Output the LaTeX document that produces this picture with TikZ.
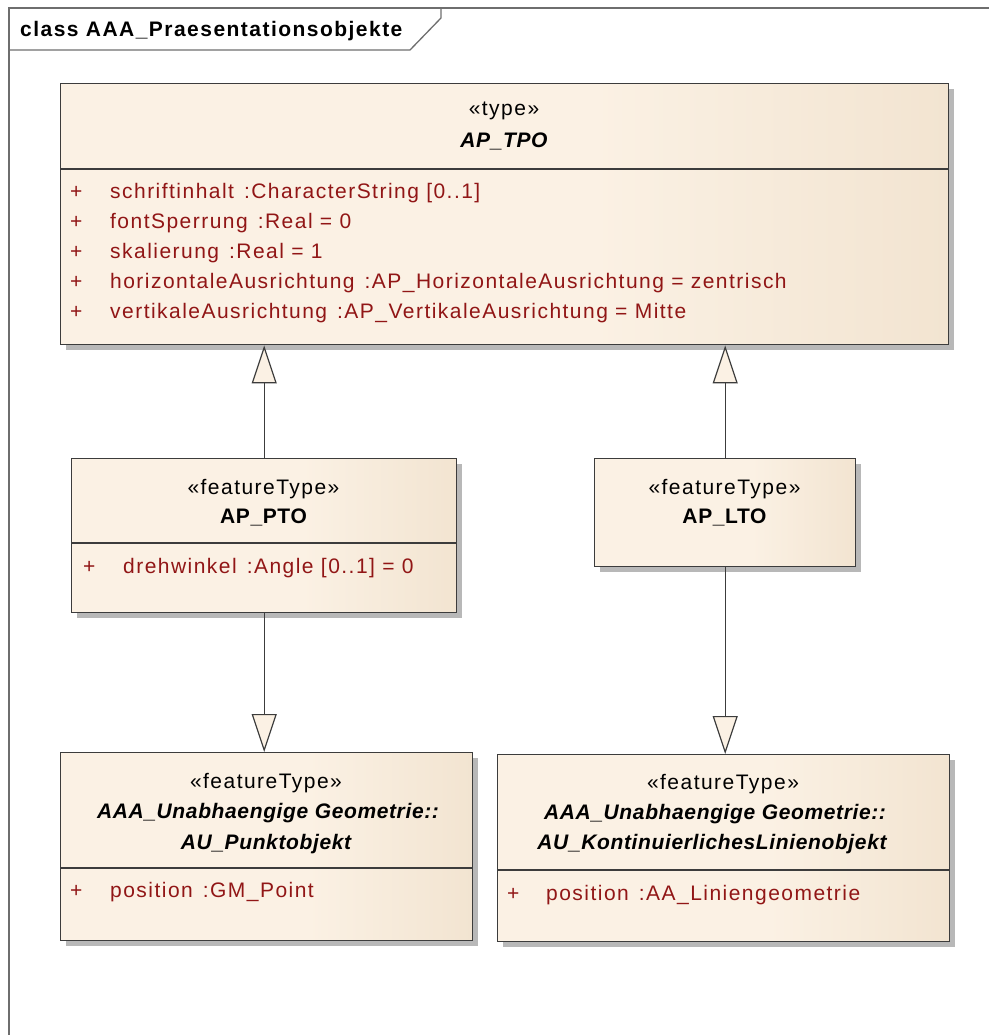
\documentclass[tikz,border=0pt]{standalone}
\usepackage{fontspec}
\setmainfont{Liberation Sans}
\newfontfamily\regf[LetterSpace=7]{Liberation Sans}
\newfontfamily\namef[LetterSpace=3]{Liberation Sans}
\usetikzlibrary{arrows.meta,shadows}
\definecolor{boxL}{RGB}{251,241,228}
\definecolor{boxR}{RGB}{231,212,185}
\definecolor{triC}{RGB}{251,241,228}
\definecolor{attrC}{RGB}{145,22,22}
\definecolor{edgeC}{RGB}{60,60,60}
\definecolor{frameC}{RGB}{110,110,110}
\pgfdeclarehorizontalshading{umlshade}{100bp}{color(0bp)=(boxL); color(55bp)=(boxL); color(100bp)=(boxR)}
\newcommand{\colgap}{\hspace{10pt}}
\tikzset{
  umlbox/.style={draw=edgeC, line width=1.4pt, shading=umlshade, anchor=north west, inner sep=0pt,
    drop shadow={shadow xshift=5pt, shadow yshift=-5pt, fill=black!28, opacity=1}},
  txt/.style={font=\regf\fontsize{21}{24}\selectfont, inner sep=0pt, text height=20pt, text depth=5pt},
  stereo/.style={txt},
  cname/.style={txt, font=\namef\fontsize{21}{24}\selectfont\bfseries\itshape},
  cnameup/.style={txt, font=\namef\fontsize{21}{24}\selectfont\bfseries},
  attr/.style={txt, text=attrC, anchor=west},
  sepline/.style={draw=edgeC, line width=1.4pt},
  gen/.style={draw=edgeC, line width=1.2pt, -{Triangle[length=38pt,width=25pt,fill=triC]}},
  titletxt/.style={txt, font=\regf\fontsize{21}{24}\selectfont\bfseries, anchor=west}
}
\begin{document}
\begin{tikzpicture}[x=1pt,y=-1pt]
\useasboundingbox (0,0) rectangle (989,1035);
% frame
\draw[frameC, line width=1.3pt] (9,1035) -- (9,8) -- (989,8);
\draw[frameC, line width=1.3pt] (9,50) -- (410,50) -- (441,18) -- (441,8);
\node[titletxt] (title) at (20,29) {class AAA\_Praesentationsobjekte};

% AP_TPO
\node[umlbox, minimum width=888pt, minimum height=261pt] (tpo) at (60,83) {};
\node[stereo] (tpo-st) at (504,108) {«type»};
\node[cname] (tpo-nm) at (504,140) {AP\_TPO};
\draw[sepline] (tpo.west |- 0,169) -- (tpo.east |- 0,169);
\node[attr] (tpo-p1) at (70,191) {+};
\node[attr] (tpo-a1) at (110,191) {schriftinhalt\colgap:CharacterString [0..1]};
\node[attr] (tpo-p2) at (70,221) {+};
\node[attr] (tpo-a2) at (110,221) {fontSperrung\colgap:Real = 0};
\node[attr] (tpo-p3) at (70,251) {+};
\node[attr] (tpo-a3) at (110,251) {skalierung\colgap:Real = 1};
\node[attr] (tpo-p4) at (70,281) {+};
\node[attr] (tpo-a4) at (110,281) {horizontaleAusrichtung\colgap:AP\_HorizontaleAusrichtung = zentrisch};
\node[attr] (tpo-p5) at (70,311) {+};
\node[attr] (tpo-a5) at (110,311) {vertikaleAusrichtung\colgap:AP\_VertikaleAusrichtung = Mitte};

% AP_PTO
\node[umlbox, minimum width=385pt, minimum height=154pt] (pto) at (71,458) {};
\node[stereo] (pto-st) at (263.5,487) {«featureType»};
\node[cnameup] (pto-nm) at (263.5,516) {AP\_PTO};
\draw[sepline] (pto.west |- 0,543) -- (pto.east |- 0,543);
\node[attr] (pto-p1) at (83,566) {+};
\node[attr] (pto-a1) at (123,566) {drehwinkel\colgap:Angle [0..1] = 0};

% AP_LTO
\node[umlbox, minimum width=261pt, minimum height=108pt] (lto) at (594,458) {};
\node[stereo] (lto-st) at (724.5,487) {«featureType»};
\node[cnameup] (lto-nm) at (724.5,516) {AP\_LTO};

% AU_Punktobjekt
\node[umlbox, minimum width=412pt, minimum height=188pt] (pkt) at (60,752) {};
\node[stereo] (pkt-st) at (266,781) {«featureType»};
\node[cname] (pkt-n1) at (268,811) {AAA\_Unabhaengige Geometrie::};
\node[cname] (pkt-n2) at (266,842) {AU\_Punktobjekt};
\draw[sepline] (pkt.west |- 0,868) -- (pkt.east |- 0,868);
\node[attr] (pkt-p1) at (70,890) {+};
\node[attr] (pkt-a1) at (110,890) {position\colgap:GM\_Point};

% AU_KontinuierlichesLinienobjekt
\node[umlbox, minimum width=452pt, minimum height=187pt] (kon) at (497,754) {};
\node[stereo] (kon-st) at (723,782) {«featureType»};
\node[cname] (kon-n1) at (715,812) {AAA\_Unabhaengige Geometrie::};
\node[cname] (kon-n2) at (712,842) {AU\_KontinuierlichesLinienobjekt};
\draw[sepline] (kon.west |- 0,870) -- (kon.east |- 0,870);
\node[attr] (kon-p1) at (507,893) {+};
\node[attr] (kon-a1) at (546,893) {position\colgap:AA\_Liniengeometrie};

% generalizations
\draw[gen] (pto.north) -- (tpo.south -| pto.north);
\draw[gen] (lto.north) -- (tpo.south -| lto.north);
\draw[gen] (pto.south) -- (pkt.north -| pto.south);
\draw[gen] (lto.south) -- (kon.north -| lto.south);
\end{tikzpicture}
\end{document}
